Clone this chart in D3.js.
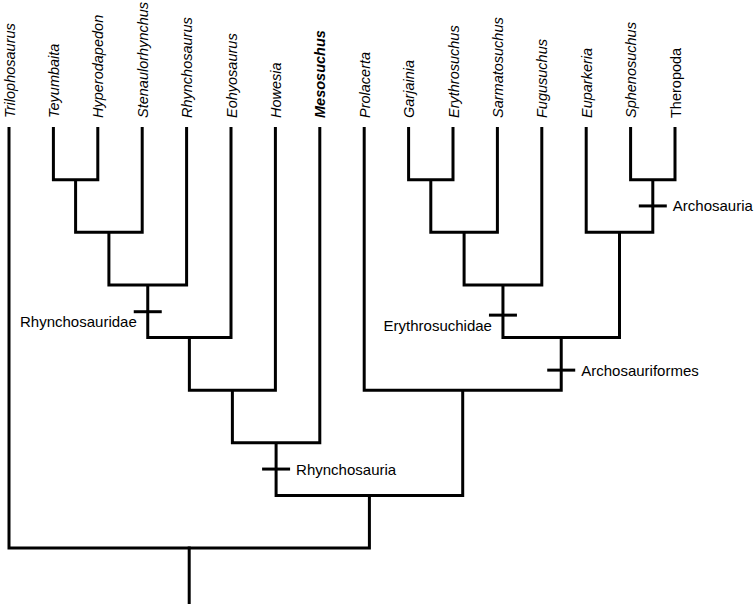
<!DOCTYPE html>
<html>
<head>
<meta charset="utf-8">
<script src="https://cdn.jsdelivr.net/npm/d3@7"></script>
<style>
  html, body { margin: 0; padding: 0; background: #fff; }
  svg { display: block; }
  text { font-family: "Liberation Sans", Arial, sans-serif; fill: #000; }
</style>
</head>
<body>
<svg id="chart" width="754" height="606"></svg>
<script>
// ---- data ----
const taxa = ["Trilophosaurus", "Teyumbaita", "Hyperodapedon", "Stenaulorhynchus",
  "Rhynchosaurus", "Eohyosaurus", "Howesia", "Mesosuchus", "Prolacerta",
  "Garjainia", "Erythrosuchus", "Sarmatosuchus", "Fugusuchus", "Euparkeria",
  "Sphenosuchus", "Theropoda"];
const boldTaxa = ["Mesosuchus"];
const romanTaxa = ["Theropoda"];

// internal nodes: id, children, rank (height level)
const nodeIds      = ["n1", "n2", "n3", "n4", "n5", "n6", "n7", "n8", "n9", "n10", "n11", "n12", "n13", "n14", "root"];
const nodeChildren = [
  ["Teyumbaita", "Hyperodapedon"], ["n1", "Stenaulorhynchus"], ["n2", "Rhynchosaurus"],
  ["n3", "Eohyosaurus"], ["n4", "Howesia"], ["n5", "Mesosuchus"],
  ["Garjainia", "Erythrosuchus"], ["n7", "Sarmatosuchus"], ["n8", "Fugusuchus"],
  ["Sphenosuchus", "Theropoda"], ["Euparkeria", "n10"], ["n9", "n11"],
  ["Prolacerta", "n12"], ["n6", "n13"], ["Trilophosaurus", "n14"]];
const nodeRanks    = [1, 2, 3, 4, 5, 6, 1, 2, 3, 1, 2, 4, 5, 7, 8];

// named clades marked on branches
const cladeNames = ["Rhynchosauridae", "Rhynchosauria", "Erythrosuchidae", "Archosauriformes", "Archosauria"];
const cladeNodes = ["n3", "n6", "n9", "n12", "n10"];
const cladeAlong = [0.51, 0.5, 0.575, 0.62, 0.5];
const cladeSide  = ["left", "right", "left", "right", "right"];

// ---- build hierarchy ----
const rows = [];
const parentOf = {};
nodeIds.forEach((id, i) => nodeChildren[i].forEach(c => parentOf[c] = id));
taxa.forEach(t => rows.push({ id: t, parent: parentOf[t], rank: 0 }));
nodeIds.forEach((id, i) => rows.push({ id: id, parent: parentOf[id] || null, rank: nodeRanks[i] }));

const root = d3.stratify().id(d => d.id).parentId(d => d.parent)(rows);

const x = d3.scalePoint().domain(taxa).range([9, 675]);
const y = d3.scaleLinear().domain([0, 8]).range([127, 548]);

root.eachAfter(n => {
  if (!n.children) n.x = x(n.id);
  else {
    // keep child order as defined
    const order = nodeChildren[nodeIds.indexOf(n.id)];
    n.children.sort((a, b) => order.indexOf(a.id) - order.indexOf(b.id));
    n.x = d3.mean(n.children, c => c.x);
  }
  n.y = y(n.data.rank);
});

const svg = d3.select("#chart");
const g = svg.append("g");

// elbows
root.descendants().filter(n => n.children).forEach(n => {
  const [a, b] = n.children;
  const p = d3.path();
  p.moveTo(a.x, a.y);
  p.lineTo(a.x, n.y);
  p.lineTo(b.x, n.y);
  p.lineTo(b.x, b.y);
  g.append("path").attr("d", p.toString())
    .attr("fill", "none").attr("stroke", "#000").attr("stroke-width", 3)
    .attr("stroke-linejoin", "miter").attr("stroke-linecap", "butt");
});
// root stem
g.append("line")
  .attr("x1", root.x).attr("x2", root.x)
  .attr("y1", root.y - 1.5).attr("y2", root.y + 56)
  .attr("stroke", "#000").attr("stroke-width", 3);

// leaf labels
root.leaves().forEach(l => {
  g.append("text")
    .attr("transform", `translate(${l.x + 0.5},${y(0) - 9}) rotate(-90)`)
    .attr("dy", "0.35em")
    .attr("font-size", 14.5)
    .attr("font-style", romanTaxa.includes(l.id) ? "normal" : "italic")
    .attr("font-weight", boldTaxa.includes(l.id) ? "bold" : "normal")
    .text(l.id);
});

// clade ticks and labels
const byId = {};
root.descendants().forEach(n => byId[n.id] = n);
cladeNames.forEach((name, i) => {
  const n = byId[cladeNodes[i]];
  const ty = n.y + (n.parent.y - n.y) * cladeAlong[i];
  g.append("line")
    .attr("x1", n.x - 14).attr("x2", n.x + 14)
    .attr("y1", ty).attr("y2", ty)
    .attr("stroke", "#000").attr("stroke-width", 3);
  if (cladeSide[i] === "right") {
    g.append("text").attr("x", n.x + 20).attr("y", ty + 5.5)
      .attr("font-size", 15).text(name);
  } else {
    g.append("text").attr("x", n.x - 11).attr("y", ty + 15.5)
      .attr("text-anchor", "end").attr("font-size", 15).text(name);
  }
});
</script>
</body>
</html>
